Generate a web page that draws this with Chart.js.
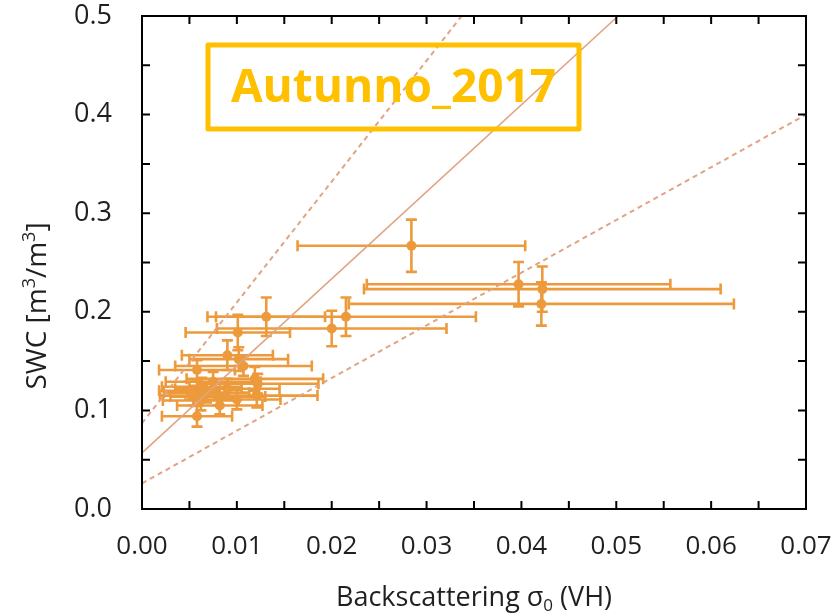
<!DOCTYPE html>
<html>
<head>
<meta charset="utf-8">
<script src="https://cdn.jsdelivr.net/npm/chart.js@4.4.1/dist/chart.umd.min.js"></script>
<style>
  body { margin: 0; background: #fff; }
  canvas { display: block; }
</style>
</head>
<body>
<canvas id="myChart" width="837" height="616"></canvas>
<script>
// backscattering VH (x) vs soil water content (y), with +/- errors
const sigmaVH = [0.0284, 0.0397, 0.0422, 0.0421, 0.0131, 0.0200, 0.0215, 0.0101,
                 0.0090, 0.0102, 0.0107, 0.0058, 0.0119, 0.0122, 0.0075, 0.0063,
                 0.0090, 0.0050, 0.0068, 0.0055, 0.0121, 0.0100, 0.0080, 0.0062,
                 0.0082, 0.0058];
const swc     = [0.267, 0.228, 0.223, 0.208, 0.195, 0.183, 0.195, 0.179,
                 0.156, 0.152, 0.145, 0.141, 0.132, 0.127, 0.129, 0.124,
                 0.122, 0.120, 0.118, 0.115, 0.115, 0.111, 0.114, 0.110,
                 0.105, 0.094];
const sigmaErr = [0.0120, 0.0160, 0.0188, 0.0203, 0.0062, 0.0121, 0.0137, 0.0055,
                  0.0048, 0.0052, 0.0072, 0.0040, 0.0072, 0.0064, 0.0050, 0.0042,
                  0.0055, 0.0032, 0.0045, 0.0036, 0.0064, 0.0046, 0.0050, 0.0040,
                  0.0045, 0.0037];
const swcErr   = [0.0265, 0.0225, 0.0230, 0.0220, 0.0195, 0.0180, 0.0195, 0.0180,
                  0.0150, 0.0120, 0.0100, 0.0100, 0.0120, 0.0100, 0.0100, 0.0090,
                  0.0100, 0.0090, 0.0100, 0.0100, 0.0120, 0.0100, 0.0090, 0.0100,
                  0.0090, 0.0105];

// fitted line and its bounds (end points)
const fitLine   = [{x: 0, y: 0.057}, {x: 0.0502, y: 0.5}];
const upperLine = [{x: 0, y: 0.087}, {x: 0.0337, y: 0.5}];
const lowerLine = [{x: 0, y: 0.026}, {x: 0.07, y: 0.40}];

const xTicks = [0, 0.01, 0.02, 0.03, 0.04, 0.05, 0.06, 0.07];
const yTicks = [0, 0.1, 0.2, 0.3, 0.4, 0.5];
const chartLabel = 'Autunno_2017';

const orange = '#EC9A3C';
const lineCol = '#E0A483';
const fontFam = "'Open Sans', sans-serif";

const points = sigmaVH.map((x, i) => ({x: x, y: swc[i]}));

// error bars, drawn before the points
const errorBars = {
    id: 'errorBars',
    beforeDatasetsDraw(chart) {
        const ctx = chart.ctx;
        const xs = chart.scales.x, ys = chart.scales.y;
        const cap = 5.5;
        ctx.save();
        ctx.strokeStyle = orange;
        ctx.lineWidth = 2.6;
        sigmaVH.forEach((v, i) => {
            const px = xs.getPixelForValue(v);
            const py = ys.getPixelForValue(swc[i]);
            const x0 = xs.getPixelForValue(v - sigmaErr[i]);
            const x1 = xs.getPixelForValue(v + sigmaErr[i]);
            const y0 = ys.getPixelForValue(swc[i] - swcErr[i]);
            const y1 = ys.getPixelForValue(swc[i] + swcErr[i]);
            ctx.beginPath();
            ctx.moveTo(x0, py); ctx.lineTo(x1, py);
            ctx.moveTo(x0, py - cap); ctx.lineTo(x0, py + cap);
            ctx.moveTo(x1, py - cap); ctx.lineTo(x1, py + cap);
            ctx.moveTo(px, y0); ctx.lineTo(px, y1);
            ctx.moveTo(px - cap, y0); ctx.lineTo(px + cap, y0);
            ctx.moveTo(px - cap, y1); ctx.lineTo(px + cap, y1);
            ctx.stroke();
        });
        ctx.restore();
    }
};

// box frame, inward ticks, axis titles and the season label
const frame = {
    id: 'frame',
    afterDraw(chart) {
        const ctx = chart.ctx;
        const a = chart.chartArea;
        const xs = chart.scales.x, ys = chart.scales.y;
        const tl = 8;
        ctx.save();
        ctx.strokeStyle = '#000';
        ctx.lineWidth = 2;
        ctx.strokeRect(a.left, a.top, a.right - a.left, a.bottom - a.top);
        ctx.beginPath();
        for (let i = 1; i < 14; i++) {
            const px = xs.getPixelForValue(i * 0.005);
            ctx.moveTo(px, a.bottom); ctx.lineTo(px, a.bottom - tl);
            ctx.moveTo(px, a.top); ctx.lineTo(px, a.top + tl);
        }
        for (let i = 1; i < 10; i++) {
            const py = ys.getPixelForValue(i * 0.05);
            ctx.moveTo(a.left, py); ctx.lineTo(a.left + tl, py);
            ctx.moveTo(a.right, py); ctx.lineTo(a.right - tl, py);
        }
        ctx.stroke();

        // x title with subscript
        ctx.fillStyle = '#1f1f1f';
        ctx.textBaseline = 'alphabetic';
        const big = '27px ' + fontFam, small = '17px ' + fontFam;
        const p1 = 'Backscattering \u03C3', p2 = '0', p3 = ' (VH)';
        ctx.font = big;
        const w1 = ctx.measureText(p1).width, w3 = ctx.measureText(p3).width;
        ctx.font = small;
        const w2 = ctx.measureText(p2).width;
        let tx = (a.left + a.right) / 2 - (w1 + w2 + w3) / 2;
        const ty = 606;
        ctx.font = big; ctx.fillText(p1, tx, ty); tx += w1;
        ctx.font = small; ctx.fillText(p2, tx, ty + 5); tx += w2;
        ctx.font = big; ctx.fillText(p3, tx, ty);

        // y title, rotated, with superscripts
        const bigY = '28px ' + fontFam, smallY = '18px ' + fontFam;
        const parts = [['SWC [m', bigY, 0], ['3', smallY, -11], ['/m', bigY, 0], ['3', smallY, -11], [']', bigY, 0]];
        let total = 0;
        parts.forEach(p => { ctx.font = p[1]; total += ctx.measureText(p[0]).width; });
        ctx.translate(46, 306);
        ctx.rotate(-Math.PI / 2);
        let sx = -total / 2;
        parts.forEach(p => {
            ctx.font = p[1];
            ctx.fillText(p[0], sx, p[2]);
            sx += ctx.measureText(p[0]).width;
        });
        ctx.setTransform(1, 0, 0, 1, 0, 0);

        // season label in a box
        const bx = a.left + 66, by = a.top + 29, bw = 371, bh = 84;
        ctx.strokeStyle = '#FFC000';
        ctx.lineWidth = 5;
        ctx.lineJoin = 'round';
        ctx.strokeRect(bx, by, bw, bh);
        ctx.fillStyle = '#FFC000';
        ctx.font = 'bold 46px ' + fontFam;
        ctx.textAlign = 'center';
        ctx.textBaseline = 'middle';
        ctx.fillText(chartLabel, bx + bw / 2, by + bh / 2 + 2);
        ctx.restore();
    }
};

const noPad = (s) => { s.paddingTop = 0; s.paddingBottom = 0; s.paddingLeft = 0; s.paddingRight = 0; };

const ctx = document.getElementById('myChart');
new Chart(ctx, {
    type: 'scatter',
    data: {
        datasets: [
            {
                label: 'fit',
                type: 'line',
                data: fitLine,
                borderColor: lineCol,
                borderWidth: 1.6,
                pointRadius: 0,
                fill: false,
                order: 1
            },
            {
                label: 'upper',
                type: 'line',
                data: upperLine,
                borderColor: lineCol,
                borderWidth: 2,
                borderDash: [5, 4],
                pointRadius: 0,
                fill: false,
                order: 1
            },
            {
                label: 'lower',
                type: 'line',
                data: lowerLine,
                borderColor: lineCol,
                borderWidth: 2,
                borderDash: [5, 4],
                pointRadius: 0,
                fill: false,
                order: 1
            },
            {
                label: chartLabel,
                data: points,
                backgroundColor: orange,
                borderWidth: 0,
                pointRadius: 5,
                order: 2
            }
        ]
    },
    options: {
        responsive: false,
        animation: false,
        devicePixelRatio: 1,
        layout: { padding: { top: 16, right: 31, left: 0, bottom: 0 } },
        plugins: {
            legend: { display: false },
            tooltip: { enabled: false }
        },
        scales: {
            x: {
                type: 'linear',
                min: 0,
                max: 0.07,
                afterFit: (s) => { s.height = 107; noPad(s); },
                afterBuildTicks: (s) => { s.ticks = xTicks.map(v => ({value: v})); },
                grid: { display: false, drawTicks: false },
                border: { display: false },
                ticks: {
                    padding: 22,
                    color: '#1f1f1f',
                    font: { family: fontFam, size: 26 },
                    callback: (v) => v.toFixed(2)
                }
            },
            y: {
                type: 'linear',
                min: 0,
                max: 0.5,
                afterFit: (s) => { s.width = 142; noPad(s); },
                afterBuildTicks: (s) => { s.ticks = yTicks.map(v => ({value: v})); },
                grid: { display: false, drawTicks: false },
                border: { display: false },
                ticks: {
                    padding: 30,
                    color: '#1f1f1f',
                    font: { family: fontFam, size: 27 },
                    callback: (v) => v.toFixed(1)
                }
            }
        }
    },
    plugins: [errorBars, frame]
});
</script>
</body>
</html>
